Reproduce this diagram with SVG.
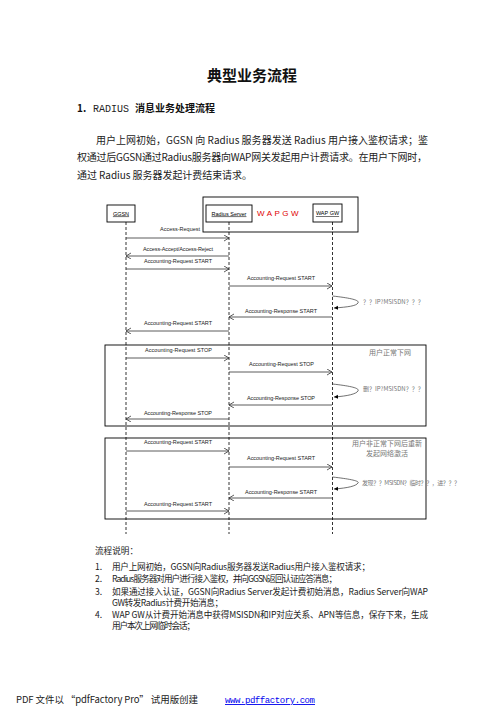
<svg xmlns="http://www.w3.org/2000/svg" width="504" height="713" viewBox="0 0 504 713">
<style>
.cn{font-family:"Noto Sans CJK SC","Liberation Sans",sans-serif;fill:#222;}
.mo{font-family:"Liberation Mono",monospace;}
.b{font-family:"Noto Sans CJK SC",sans-serif;font-weight:bold;fill:#111;}
.lbl{font-family:"Liberation Sans",Arial,sans-serif;font-size:5.5px;fill:#222;}
.note{font-family:"Noto Sans CJK SC","Liberation Sans",sans-serif;font-size:6px;fill:#777;}
.nt{font-family:"Noto Sans CJK SC",sans-serif;font-size:7px;fill:#777;}
.li{font-size:8.6px;}
.box{fill:#fff;stroke:#000;stroke-width:0.9;}
.frame{fill:none;stroke:#000;stroke-width:0.9;}
.life{stroke:#000;stroke-width:0.8;stroke-dasharray:3,2;fill:none;}
.msg{stroke:#333;stroke-width:0.8;fill:none;marker-end:url(#open);}
.loop{stroke:#333;stroke-width:0.7;fill:none;marker-end:url(#fill);}
.nm{font-family:"Liberation Sans",Arial,sans-serif;font-size:5.5px;fill:#000;text-decoration:underline;}
</style>
<defs>
<marker id="open" markerUnits="userSpaceOnUse" markerWidth="7" markerHeight="7" refX="5" refY="3" orient="auto">
<path d="M0,0 L5,3 L0,6" fill="none" stroke="#333" stroke-width="0.8"/>
</marker>
<marker id="fill" markerUnits="userSpaceOnUse" markerWidth="6" markerHeight="6" refX="4" refY="2" orient="auto">
<path d="M0,0 L4,2 L0,4 Z" fill="#000"/>
</marker>
</defs>
<rect width="504" height="713" fill="#fff"/>

<text class="b" x="252" y="81" font-size="15" text-anchor="middle">典型业务流程</text>
<text x="77" y="112" font-size="10"><tspan class="b">1.</tspan><tspan class="cn mo" x="93">RADIUS </tspan><tspan class="b">消息业务处理流程</tspan></text>

<text class="cn" x="96" y="144" font-size="10" textLength="332">用户上网初始，GGSN 向 Radius 服务器发送 Radius 用户接入鉴权请求；鉴</text>
<text class="cn" x="77" y="161" font-size="10" textLength="350">权通过后GGSN通过Radius服务器向WAP网关发起用户计费请求。在用户下网时，</text>
<text class="cn" x="77" y="179" font-size="10" textLength="175">通过 Radius 服务器发起计费结束请求。</text>

<g id="frame-wapgw"><rect class="frame" x="203" y="197" width="155" height="35"/>
<text x="279" y="215.5" font-family="Liberation Sans,Arial,sans-serif" font-size="8" fill="#e00000" text-anchor="middle" letter-spacing="2.5">WAPGW</text></g>
<g id="ggsn"><rect class="box" x="107" y="205" width="28" height="17"/><text class="nm" x="121" y="215.5" text-anchor="middle">GGSN</text></g>
<g id="radius"><rect class="box" x="206" y="205" width="46" height="17"/><text class="nm" x="229" y="215.5" text-anchor="middle">Radius Server</text></g>
<g id="wapgw"><rect class="box" x="313" y="204" width="29" height="18"/><text class="nm" x="327.5" y="215" text-anchor="middle">WAP GW</text></g>

<g id="frame-normal"><rect class="frame" x="105" y="345" width="321" height="81"/>
<text class="nt" x="390" y="355" text-anchor="middle">用户正常下网</text></g>
<g id="frame-abnormal"><rect class="frame" x="105" y="438" width="321" height="81"/>
<text class="nt" x="387" y="446" text-anchor="middle">用户非正常下网后重新</text>
<text class="nt" x="387" y="455.5" text-anchor="middle">发起网络激活</text></g>

<g id="connectors">
<line class="life" x1="126" y1="222" x2="126" y2="534"/>
<line class="life" x1="229" y1="222" x2="229" y2="534"/>
<line class="life" x1="332.5" y1="222" x2="332.5" y2="534"/>

<line class="msg" x1="126" y1="238" x2="229" y2="238"/>
<text class="lbl" x="160" y="231">Access-Request</text>
<line class="msg" x1="229" y1="256" x2="126" y2="256"/>
<text class="lbl" x="143" y="251" textLength="70">Access-Accept/Access-Reject</text>
<line class="msg" x1="126" y1="269" x2="229" y2="269"/>
<text class="lbl" x="144" y="263" textLength="68">Accounting-Request START</text>
<line class="msg" x1="229" y1="286" x2="332" y2="286"/>
<text class="lbl" x="247" y="280" textLength="68">Accounting-Request START</text>
<path class="loop" d="M332.5,296 C350,298 360,300 358,303 C356,306 348,307 334,308"/>
<text class="note" x="363" y="304">？？IP?MSISDN？？？</text>
<line class="msg" x1="332" y1="317" x2="229" y2="317"/>
<text class="lbl" x="245" y="313" textLength="72">Accounting-Response START</text>
<line class="msg" x1="229" y1="331" x2="126" y2="331"/>
<text class="lbl" x="144" y="325" textLength="68">Accounting-Request START</text>

<line class="msg" x1="126" y1="358" x2="229" y2="358"/>
<text class="lbl" x="145" y="352" textLength="67">Accounting-Request STOP</text>
<line class="msg" x1="229" y1="372" x2="332" y2="372"/>
<text class="lbl" x="249" y="366" textLength="65">Accounting-Request STOP</text>
<path class="loop" d="M332.5,384 C350,386 360,388 358,391 C356,394 348,396 334,397"/>
<text class="note" x="363" y="391">删？IP?MSISDN？？？</text>
<line class="msg" x1="332" y1="405" x2="229" y2="405"/>
<text class="lbl" x="247" y="400" textLength="68">Accounting-Response STOP</text>
<line class="msg" x1="229" y1="419" x2="126" y2="419"/>
<text class="lbl" x="144" y="415" textLength="68">Accounting-Response STOP</text>

<line class="msg" x1="126" y1="451" x2="229" y2="451"/>
<text class="lbl" x="144" y="444" textLength="68">Accounting-Request START</text>
<line class="msg" x1="229" y1="467" x2="332" y2="467"/>
<text class="lbl" x="247" y="460" textLength="68">Accounting-Request START</text>
<path class="loop" d="M332.5,477 C350,479 360,481 358,483 C356,486 348,488 334,489"/>
<text class="note" x="362" y="485" textLength="98">发现？？MSISDN？临时？？，进？？？</text>
<line class="msg" x1="332" y1="498" x2="229" y2="498"/>
<text class="lbl" x="245" y="494" textLength="72">Accounting-Response START</text>
<line class="msg" x1="126" y1="511" x2="229" y2="511"/>
<text class="lbl" x="144" y="506" textLength="68">Accounting-Request START</text>
</g>

<text class="cn li" x="95" y="554">流程说明：</text>
<text class="cn li" x="95" y="570">1.</text>
<text class="cn li" x="112" y="570" textLength="258">用户上网初始，GGSN向Radius服务器发送Radius用户接入鉴权请求；</text>
<text class="cn li" x="95" y="582">2.</text>
<text class="cn li" x="112" y="582" textLength="225">Radius服务器对用户进行接入鉴权，并向GGSN返回认证应答消息；</text>
<text class="cn li" x="95" y="595">3.</text>
<text class="cn li" x="112" y="595" textLength="316">如果通过接入认证，GGSN向Radius Server发起计费初始消息，Radius Server向WAP</text>
<text class="cn li" x="112" y="606" textLength="111">GW转发Radius计费开始消息；</text>
<text class="cn li" x="95" y="618">4.</text>
<text class="cn li" x="112" y="618" textLength="316">WAP GW从计费开始消息中获得MSISDN和IP对应关系、APN等信息，保存下来，生成</text>
<text class="cn li" x="112" y="629" textLength="83">用户本次上网临时会话；</text>

<text class="cn" x="16" y="703" font-size="9.5" textLength="182">PDF 文件以 “pdfFactory Pro” 试用版创建</text>
<text x="225" y="703" font-family="Liberation Mono,monospace" font-size="9" fill="#0000ee" text-decoration="underline" textLength="90">www.pdffactory.com</text>
</svg>
